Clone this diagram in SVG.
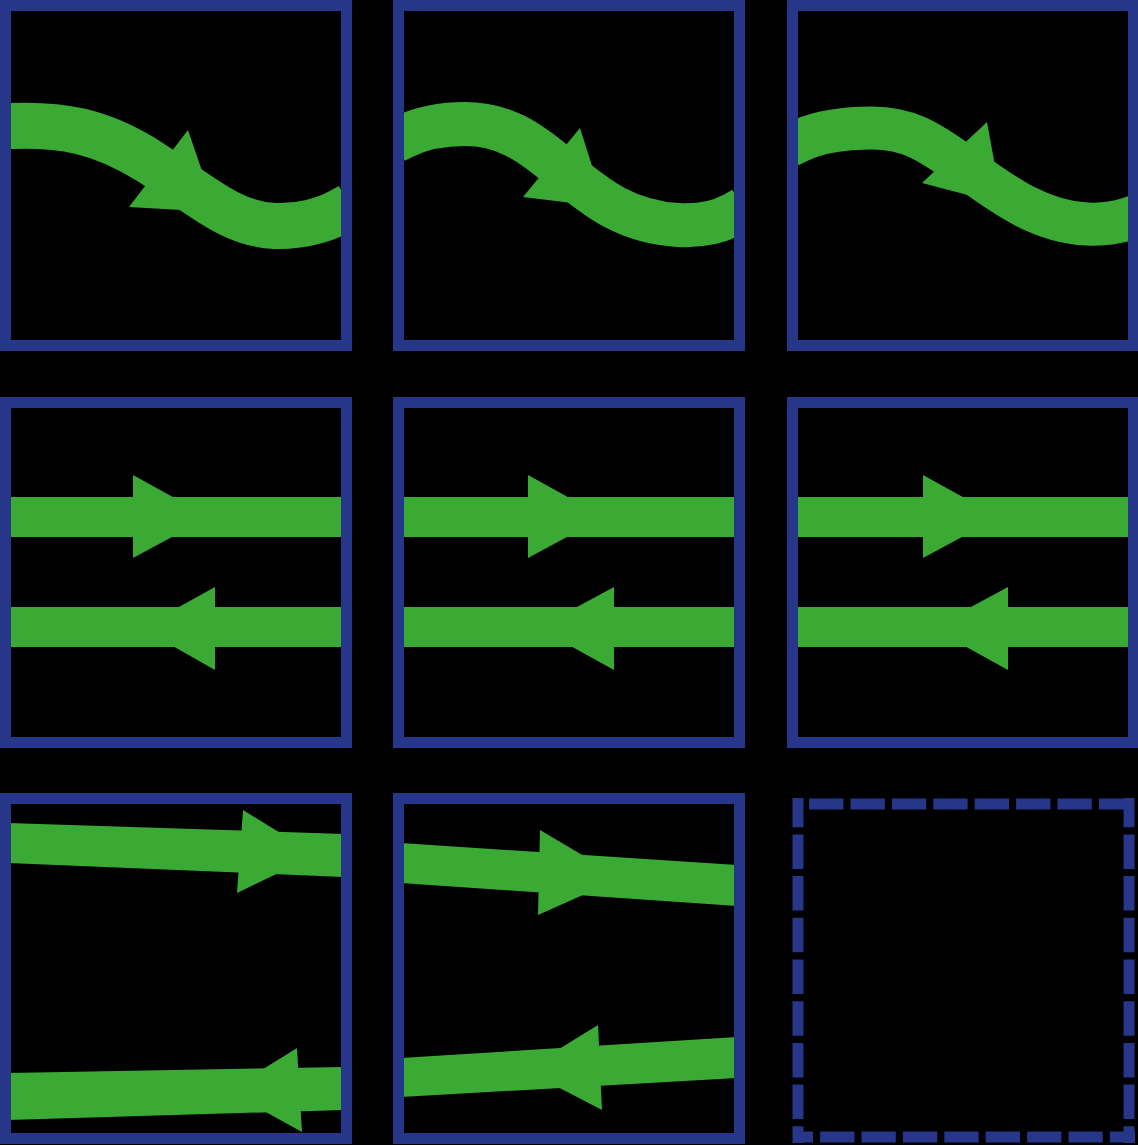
<svg xmlns="http://www.w3.org/2000/svg" width="1138" height="1145" viewBox="0 0 1138 1145">
<defs>
<style>
.frame{fill:none;stroke:#26378a;stroke-width:11}
.dash{fill:none;stroke:#26378a;stroke-width:11}
.band{fill:none;stroke:#3aaa35;stroke-linecap:butt}
.g{fill:#3aaa35}
</style>
<clipPath id="inner"><rect x="6" y="6" width="340" height="340"/></clipPath>
</defs>
<rect x="0" y="0" width="1138" height="1145" fill="#000"/>

<g id="tile-1" transform="translate(0,0)">
<path class="band" stroke-width="46" clip-path="url(#inner)" d="M2,126 L10,126 C60,124 100,130 150,162 S230,224 275,226 C300,227 325,220 341,211 L350,206"/>
<polygon class="g" points="188,130 129,207 216,212"/>
<rect class="frame" x="5.5" y="5.5" width="341" height="340"/>
</g>

<g id="tile-2" transform="translate(393,0)">
<path class="band" stroke-width="44" clip-path="url(#inner)" d="M2,141 L10,137 C30,127 50,124 72,124 C110,124 135,140 170,170 S235,222 285,225 C310,226.5 328,221 341,214 L350,209"/>
<polygon class="g" points="187,128 130,197 212,207"/>
<rect class="frame" x="5.5" y="5.5" width="341" height="340"/>
</g>

<g id="tile-3" transform="translate(787,0)">
<path class="band" stroke-width="43" clip-path="url(#inner)" d="M2,146 L10,142 C30,132 55,128 85,128 C120,128 140,140 175,165 S250,222 300,224 C320,225 332,222 341,219 L350,216"/>
<polygon class="g" points="200,122 135,183 215,204"/>
<rect class="frame" x="5.5" y="5.5" width="341" height="340"/>
</g>

<g id="tile-4" transform="translate(0,397)">
<rect class="g" x="8" y="100" width="336" height="40"/>
<polygon class="g" points="133,78 133,161 209,120"/>
<rect class="g" x="8" y="210" width="336" height="40"/>
<polygon class="g" points="215,190 215,273 141,231"/>
<rect class="frame" x="5.5" y="5.5" width="341" height="340"/>
</g>

<g id="tile-5" transform="translate(393,397)">
<rect class="g" x="8" y="100" width="336" height="40"/>
<polygon class="g" points="135,78 135,161 211,120"/>
<rect class="g" x="8" y="210" width="336" height="40"/>
<polygon class="g" points="221,190 221,273 145,231"/>
<rect class="frame" x="5.5" y="5.5" width="341" height="340"/>
</g>

<g id="tile-6" transform="translate(787,397)">
<rect class="g" x="8" y="100" width="336" height="40"/>
<polygon class="g" points="136,78 136,161 212,120"/>
<rect class="g" x="8" y="210" width="336" height="40"/>
<polygon class="g" points="221,190 221,273 145,231"/>
<rect class="frame" x="5.5" y="5.5" width="341" height="340"/>
</g>

<g id="tile-7" transform="translate(0,793)">
<polygon class="g" points="8,30 344,41 344,84 8,70"/>
<polygon class="g" points="243,17 237,100 316,62"/>
<polygon class="g" points="8,280 344,274 344,317 8,327"/>
<polygon class="g" points="297,255 302,339 228,298"/>
<rect class="frame" x="5.5" y="5.5" width="341" height="340"/>
</g>

<g id="tile-8" transform="translate(393,793)">
<polygon class="g" points="8,50 344,72 344,113 8,90"/>
<polygon class="g" points="147,37 145,122 228,85"/>
<polygon class="g" points="8,265 344,244 344,285 8,304"/>
<polygon class="g" points="205,232 209,317 132,277"/>
<rect class="frame" x="5.5" y="5.5" width="341" height="340"/>
</g>

<g id="tile-9">
<path class="dash" stroke-dasharray="34.3 7.1" stroke-dashoffset="25.3" d="M793,804 H1135"/>
<path class="dash" stroke-dasharray="34.5 7.2" stroke-dashoffset="5.3" d="M798,798 V1143"/>
<path class="dash" stroke-dasharray="34.5 7.2" stroke-dashoffset="5.3" d="M1129,798 V1143"/>
<path class="dash" stroke-width="12" stroke-dasharray="34.3 7.1" stroke-dashoffset="14.3" d="M793,1137 H1135"/>
</g>

<g id="connectors"></g>
</svg>
